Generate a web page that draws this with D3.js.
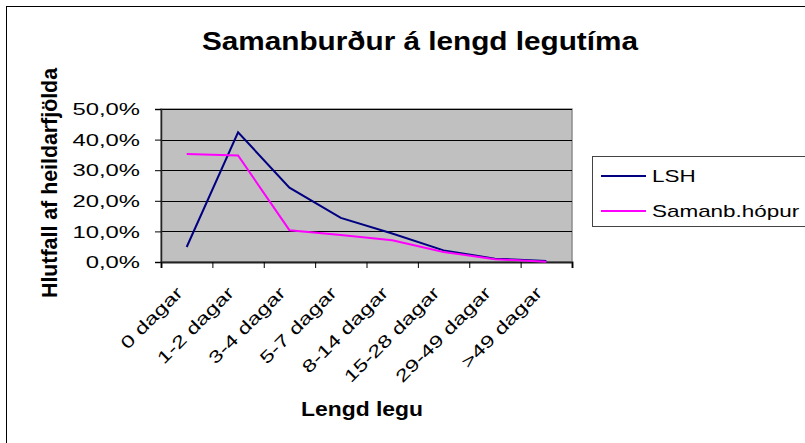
<!DOCTYPE html>
<html>
<head>
<meta charset="utf-8">
<script src="https://cdn.jsdelivr.net/npm/d3@7"></script>
<style>
  body { margin: 0; background: #fff; }
  svg { display: block; font-family: "Liberation Sans", Arial, sans-serif; }
</style>
</head>
<body>
<svg id="chart" width="805" height="443"></svg>
<script>
// flokkar (lengd legu)
var categories = ["0 dagar", "1-2 dagar", "3-4 dagar", "5-7 dagar", "8-14 dagar", "15-28 dagar", "29-49 dagar", ">49 dagar"];
// hlutfall af heildarfjolda
var lsh     = [0.049, 0.424, 0.243, 0.144, 0.093, 0.038, 0.011, 0.003];
var samanb  = [0.353, 0.348, 0.104, 0.088, 0.071, 0.033, 0.009, 0.001];
var yTicks  = [0, 0.1, 0.2, 0.3, 0.4, 0.5];
var seriesNames = ["LSH", "Samanb.hópur"];
var seriesColors = ["#000080", "#FF00FF"];

var svg = d3.select("#chart");
var plot = {left: 161, right: 572, top: 109, bottom: 262};

var isl = d3.formatLocale({decimal: ",", thousands: ".", grouping: [3], currency: ["", " kr."]});
var fmt = isl.format(".1%");

// textinn i myndinni er teygdur a breiddina
function stretch(sel, k) {
  sel.each(function() {
    var w = this.getComputedTextLength();
    d3.select(this).attr("textLength", w * k).attr("lengthAdjust", "spacingAndGlyphs");
  });
}

// ytri rammi
svg.append("rect")
  .attr("x", 6.5).attr("y", 6.5).attr("width", 900).attr("height", 600)
  .attr("fill", "#fff").attr("stroke", "#000").attr("stroke-width", 1);

var x = d3.scaleBand().domain(categories).range([plot.left, plot.right]).padding(0);
var xEdge = d3.scaleLinear().domain([0, categories.length]).range([plot.left, plot.right]);
var y = d3.scaleLinear().domain([0, 0.5]).range([plot.bottom, plot.top]);

// plot svaedi
svg.append("rect")
  .attr("x", plot.left).attr("y", plot.top)
  .attr("width", plot.right - plot.left).attr("height", plot.bottom - plot.top)
  .attr("fill", "#C0C0C0").attr("stroke", "#8c8c8c").attr("stroke-width", 1.5);

// gridlinur
svg.append("g").selectAll("line")
  .data(yTicks.slice(1))
  .enter().append("line")
  .attr("x1", plot.left).attr("x2", plot.right)
  .attr("y1", function(d) { return Math.round(y(d)) + 0.5; })
  .attr("y2", function(d) { return Math.round(y(d)) + 0.5; })
  .attr("stroke", "#000").attr("stroke-width", 1);

// y as
var yAxis = svg.append("g")
  .attr("transform", "translate(" + plot.left + ",0)")
  .call(d3.axisLeft(y).tickValues(yTicks).tickSize(6).tickPadding(15).tickFormat(fmt));
yAxis.select(".domain").attr("stroke", "#222").attr("stroke-width", 1.5);
yAxis.selectAll(".tick line").attr("stroke", "#000");
yAxis.selectAll("text").attr("font-size", 17).attr("font-family", "Liberation Sans, Arial, sans-serif")
  .attr("fill", "#000").attr("dy", "0.33em");
stretch(yAxis.selectAll("text"), 1.4);

// x as
var xAxis = svg.append("g")
  .attr("transform", "translate(0," + plot.bottom + ")")
  .call(d3.axisBottom(xEdge).ticks(categories.length).tickSize(6).tickFormat(""));
xAxis.select(".domain").attr("stroke", "#222").attr("stroke-width", 2);
xAxis.selectAll(".tick line").attr("stroke", "#000");

var xl = svg.append("g").selectAll("text")
  .data(categories)
  .enter().append("text")
  .attr("text-anchor", "end")
  .attr("font-size", 17)
  .attr("transform", function(d) { return "translate(" + (x(d) + x.bandwidth() / 2 - 3) + "," + (plot.bottom + 32) + ")rotate(-45)"; })
  .text(function(d) { return d; });
stretch(xl, 1.38);

// linur
var line = d3.line()
  .x(function(d, i) { return x(categories[i]) + x.bandwidth() / 2; })
  .y(function(d) { return y(d); });

[lsh, samanb].forEach(function(s, i) {
  svg.append("path")
    .datum(s)
    .attr("d", line)
    .attr("fill", "none")
    .attr("stroke", seriesColors[i])
    .attr("stroke-width", 2);
});

// titill
svg.append("text")
  .attr("x", 420).attr("y", 50)
  .attr("text-anchor", "middle")
  .attr("font-size", 26).attr("font-weight", "bold")
  .attr("textLength", 436).attr("lengthAdjust", "spacingAndGlyphs")
  .text("Samanburður á lengd legutíma");

svg.append("text")
  .attr("x", 362).attr("y", 416)
  .attr("text-anchor", "middle")
  .attr("font-size", 21).attr("font-weight", "bold")
  .attr("textLength", 122).attr("lengthAdjust", "spacingAndGlyphs")
  .text("Lengd legu");

svg.append("text")
  .attr("transform", "translate(57,183)rotate(-90)")
  .attr("text-anchor", "middle")
  .attr("font-size", 22).attr("font-weight", "bold")
  .attr("textLength", 230).attr("lengthAdjust", "spacingAndGlyphs")
  .text("Hlutfall af heildarfjölda");

// skyring
var legend = svg.append("g");
legend.append("rect")
  .attr("x", 592.5).attr("y", 156.5).attr("width", 300).attr("height", 70)
  .attr("fill", "#fff").attr("stroke", "#444").attr("stroke-width", 1);

var items = legend.selectAll("g.item")
  .data(seriesNames)
  .enter().append("g")
  .attr("class", "item")
  .attr("transform", function(d, i) { return "translate(0," + (176 + i * 35) + ")"; });
items.append("line")
  .attr("x1", 601).attr("x2", 646)
  .attr("stroke", function(d, i) { return seriesColors[i]; })
  .attr("stroke-width", 2);
var lt = items.append("text")
  .attr("x", 652).attr("y", 6)
  .attr("font-size", 17)
  .text(function(d) { return d; });
stretch(lt, 1.32);
</script>
</body>
</html>
